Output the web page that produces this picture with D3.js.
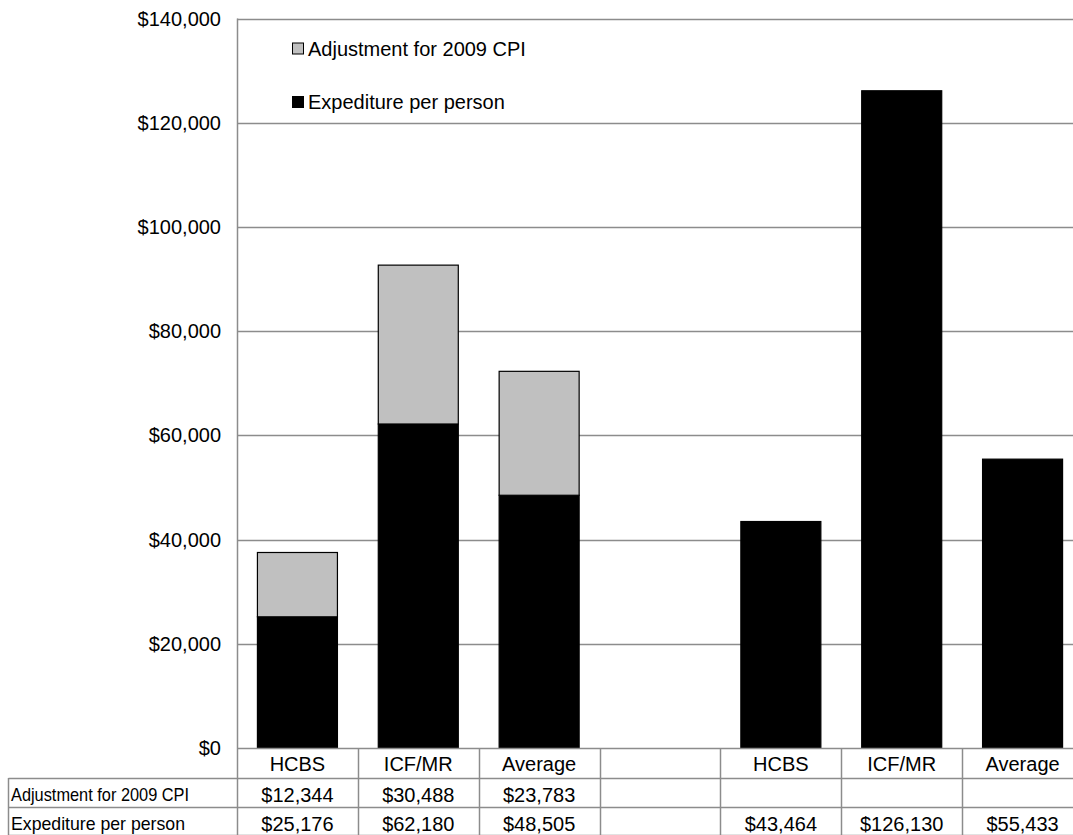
<!DOCTYPE html>
<html>
<head>
<meta charset="utf-8">
<script src="https://cdnjs.cloudflare.com/ajax/libs/d3/7.8.5/d3.min.js"></script>
<style>
    body { margin: 0; background: #fff; }
    svg { font-family: "Liberation Sans", Arial, sans-serif; }
</style>
</head>
<body>
<div id="chart"></div>
<script>
// categories (slot 4 is an empty spacer column)
const categories = ["HCBS", "ICF/MR", "Average", "", "HCBS", "ICF/MR", "Average"];
const expenditure = [25176, 62180, 48505, null, 43464, 126130, 55433];
const adjustment = [12344, 30488, 23783, null, null, null, null];
const yTicks = [0, 20000, 40000, 60000, 80000, 100000, 120000, 140000];

const seriesNames = ["Adjustment for 2009 CPI", "Expediture per person"];
const seriesColors = ["#c0c0c0", "#000000"];

const width = 1073, height = 835;
const margin = { top: 18.5, left: 237, bottom: 87 };
const plotRight = 1083;
const gridColor = "#8c8c8c";
const fontSize = 20;

const svg = d3.select("#chart")
    .append("svg")
    .attr("width", width)
    .attr("height", height);

const ids = categories.map((d, i) => i);

const xScale = d3.scaleBand()
    .domain(ids)
    .range([margin.left, plotRight])
    .paddingInner(0.338)
    .paddingOuter(0.169);

// column edges for the table (no padding)
const colScale = d3.scaleBand()
    .domain(ids)
    .range([margin.left, plotRight]);

const y0 = height - margin.bottom;
const yScale = d3.scaleLinear()
    .domain([0, 140000])
    .range([y0, margin.top]);

const money = d3.format("$,");

// gridlines
svg.append("g")
    .selectAll("line")
    .data(yTicks.slice(1))
    .join("line")
    .attr("x1", margin.left)
    .attr("x2", plotRight)
    .attr("y1", d => Math.round(yScale(d)) + 0.5)
    .attr("y2", d => Math.round(yScale(d)) + 0.5)
    .attr("stroke", gridColor)
    .attr("stroke-width", 1.5);

// y axis labels
svg.append("g")
    .selectAll("text")
    .data(yTicks)
    .join("text")
    .attr("x", 221)
    .attr("y", d => yScale(d))
    .attr("dy", "0.35em")
    .attr("text-anchor", "end")
    .attr("font-size", fontSize)
    .text(d => money(d));

// stacked bars
const rows = ids.map(i => ({
    id: i,
    exp: expenditure[i] || 0,
    adj: adjustment[i] || 0
}));

const stack = d3.stack().keys(["exp", "adj"])(rows);
const fillByKey = { exp: seriesColors[1], adj: seriesColors[0] };

svg.append("g")
    .selectAll("g")
    .data(stack)
    .join("g")
    .attr("fill", d => fillByKey[d.key])
    .selectAll("rect")
    .data(d => d.filter(p => p[1] > p[0]))
    .join("rect")
    .attr("x", d => xScale(d.data.id))
    .attr("y", d => yScale(d[1]))
    .attr("width", xScale.bandwidth())
    .attr("height", d => yScale(d[0]) - yScale(d[1]))
    .attr("stroke", "#000")
    .attr("stroke-width", 1.2);

// y axis line
svg.append("line")
    .attr("x1", margin.left + 0.5).attr("x2", margin.left + 0.5)
    .attr("y1", margin.top).attr("y2", y0)
    .attr("stroke", gridColor)
    .attr("stroke-width", 1.5);

// data table
const rowH = [30, 29, 29];
const rowTop = [y0, y0 + rowH[0], y0 + rowH[0] + rowH[1]];
const tableLeft = 8.5;
const table = svg.append("g")
    .attr("stroke", gridColor)
    .attr("stroke-width", 1.5);

// horizontal lines
table.append("line")
    .attr("x1", margin.left).attr("x2", plotRight)
    .attr("y1", y0 + 0.5).attr("y2", y0 + 0.5);
[rowTop[1], rowTop[2], height].forEach(yy => {
    table.append("line")
        .attr("x1", tableLeft).attr("x2", plotRight)
        .attr("y1", yy + 0.5).attr("y2", yy + 0.5);
});

// vertical lines
table.append("line")
    .attr("x1", tableLeft).attr("x2", tableLeft)
    .attr("y1", rowTop[1]).attr("y2", height);
table.selectAll(".col-line")
    .data(ids)
    .join("line")
    .attr("class", "col-line")
    .attr("x1", d => Math.round(colScale(d)) + 0.5)
    .attr("x2", d => Math.round(colScale(d)) + 0.5)
    .attr("y1", y0)
    .attr("y2", height);

// header row
svg.append("g")
    .selectAll("text")
    .data(ids)
    .join("text")
    .attr("x", d => colScale(d) + colScale.bandwidth() / 2)
    .attr("y", rowTop[0] + rowH[0] / 2 + 1)
    .attr("dy", "0.36em")
    .attr("text-anchor", "middle")
    .attr("font-size", fontSize)
    .text(d => categories[d]);

// value rows
const tableRows = [
    { name: seriesNames[0], values: adjustment, labelLen: 178 },
    { name: seriesNames[1], values: expenditure, labelLen: 174 }
];

tableRows.forEach((r, ri) => {
    const top = rowTop[ri + 1];
    const cy = top + rowH[ri + 1] / 2 + 2;
    const g = svg.append("g");
    g.append("text")
        .attr("x", 11)
        .attr("y", cy)
        .attr("dy", "0.36em")
        .attr("font-size", 19)
        .attr("textLength", r.labelLen)
        .attr("lengthAdjust", "spacingAndGlyphs")
        .text(r.name);
    g.selectAll(".val")
        .data(ids.filter(i => r.values[i] != null))
        .join("text")
        .attr("class", "val")
        .attr("x", d => colScale(d) + colScale.bandwidth() / 2)
        .attr("y", cy)
        .attr("dy", "0.36em")
        .attr("text-anchor", "middle")
        .attr("font-size", fontSize)
        .text(d => money(r.values[d]));
});

// legend
const legend = svg.append("g")
    .selectAll("g")
    .data(seriesNames)
    .join("g")
    .attr("transform", (d, i) => `translate(292, ${48.5 + i * 53.5})`);

legend.append("rect")
    .attr("x", 0.5)
    .attr("y", -5.5)
    .attr("width", 11)
    .attr("height", 11)
    .attr("fill", (d, i) => seriesColors[i])
    .attr("stroke", "#000")
    .attr("stroke-width", 1);

legend.append("text")
    .attr("x", 16)
    .attr("y", 0)
    .attr("dy", "0.36em")
    .attr("font-size", fontSize)
    .text(d => d);
</script>
</body>
</html>
